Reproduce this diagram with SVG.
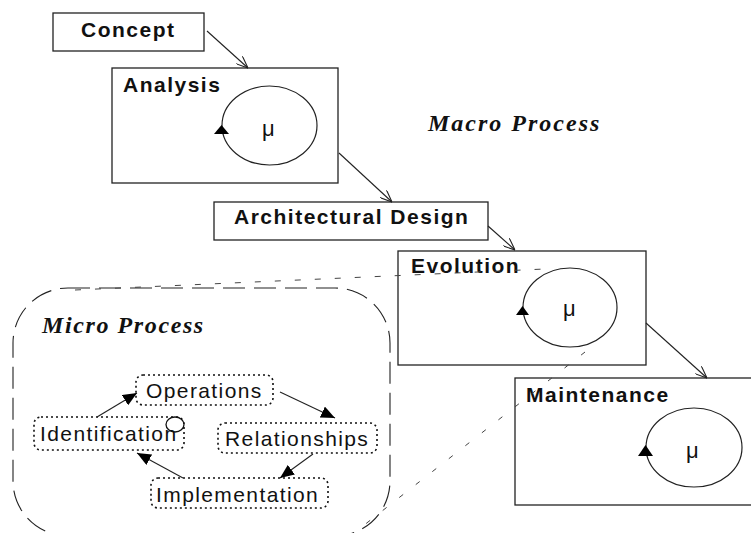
<svg xmlns="http://www.w3.org/2000/svg" width="751" height="533" viewBox="0 0 751 533">
  <defs>
    <style>
      .box { fill: #fff; stroke: #222; stroke-width: 1.3; }
      .phase { font-family: "Liberation Sans", Arial, sans-serif; font-weight: bold; font-size: 21px; letter-spacing: 1.5px; fill: #111; }
      .mu { font-family: "Liberation Sans", Arial, sans-serif; font-size: 22px; fill: #111; }
      .loop { fill: none; stroke: #222; stroke-width: 1.2; }
      .title { font-family: "Liberation Serif", "Times New Roman", serif; font-weight: bold; font-style: italic; font-size: 24px; fill: #111; }
      .step { fill: #fff; stroke: #111; stroke-width: 1.6; stroke-dasharray: 2 3; }
      .steptext { font-family: "Liberation Sans", Arial, sans-serif; font-size: 21px; letter-spacing: 1.4px; fill: #111; }
      .link { fill: none; stroke: #222; stroke-width: 1.1; }
      .flow { fill: none; stroke: #222; stroke-width: 1.1; }
      .zoom { fill: none; stroke: #444; stroke-width: 1; }
    </style>
    <marker id="open" viewBox="0 0 12 10" refX="12" refY="5" markerWidth="12" markerHeight="10" markerUnits="userSpaceOnUse" orient="auto">
      <path d="M0,0 L12,5 L0,10" fill="none" stroke="#222" stroke-width="1.1"/>
    </marker>
    <marker id="solid" viewBox="0 0 14 12" refX="14" refY="6" markerWidth="14" markerHeight="12" markerUnits="userSpaceOnUse" orient="auto">
      <path d="M0,0 L14,6 L0,12 Z" fill="#000"/>
    </marker>
  </defs>

  <rect width="751" height="533" fill="#fff"/>

  <!-- micro process bubble -->
  <g id="micro-process">
    <rect x="13" y="288" width="377" height="248" rx="55" ry="55" fill="none" stroke="#222" stroke-width="1.1" stroke-dasharray="22 9"/>
    <text class="title" x="42" y="333" letter-spacing="1.6">Micro Process</text>
  </g>

  <g id="macro-title">
    <text class="title" x="428" y="131" letter-spacing="2">Macro Process</text>
  </g>

  <!-- macro phases -->
  <g id="concept">
    <rect class="box" x="53" y="13" width="151" height="38"/>
    <text class="phase" x="81" y="37">Concept</text>
  </g>

  <g id="analysis">
    <rect class="box" x="112" y="68" width="226" height="115"/>
    <text class="phase" x="123" y="92">Analysis</text>
    <ellipse class="loop" cx="269.5" cy="125.5" rx="47.5" ry="39.5"/>
    <path d="M214,134 L229,134 L221.5,125 Z" fill="#000"/>
    <text class="mu" x="262" y="136">μ</text>
  </g>

  <g id="architectural-design">
    <rect class="box" x="214" y="202" width="274" height="38"/>
    <text class="phase" x="234" y="224">Architectural Design</text>
  </g>

  <g id="evolution">
    <rect class="box" x="398" y="251" width="248" height="114"/>
    <text class="phase" x="411" y="273">Evolution</text>
    <ellipse class="loop" cx="570" cy="307.5" rx="47" ry="39.5"/>
    <path d="M516,315 L529,315 L522.5,306 Z" fill="#000"/>
    <text class="mu" x="563" y="316">μ</text>
  </g>

  <g id="maintenance">
    <rect class="box" x="515" y="378" width="245" height="127"/>
    <text class="phase" x="526" y="402">Maintenance</text>
    <ellipse class="loop" cx="694" cy="447.5" rx="48" ry="39.5"/>
    <path d="M638,456 L653,456 L645.5,445 Z" fill="#000"/>
    <text class="mu" x="686" y="458">μ</text>
  </g>

  <!-- micro steps -->
  <g id="operations">
    <rect class="step" x="136" y="375" width="137" height="30" rx="7"/>
    <text class="steptext" x="146" y="398">Operations</text>
  </g>
  <g id="identification">
    <rect class="step" x="34" y="417" width="150" height="33" rx="7"/>
    <text class="steptext" x="40" y="441">Identification</text>
    <ellipse cx="175" cy="424.5" rx="9" ry="7.5" fill="none" stroke="#111" stroke-width="1.3"/>
  </g>
  <g id="relationships">
    <rect class="step" x="218" y="423" width="159" height="30" rx="7"/>
    <text class="steptext" x="225" y="446">Relationships</text>
  </g>
  <g id="implementation">
    <rect class="step" x="151" y="478" width="177" height="30" rx="7"/>
    <text class="steptext" x="156" y="502">Implementation</text>
  </g>

  <g id="connectors">
    <!-- macro sequence -->
    <line class="link" x1="207" y1="31" x2="248" y2="68" marker-end="url(#open)"/>
    <line class="link" x1="339" y1="153" x2="392" y2="202" marker-end="url(#open)"/>
    <line class="link" x1="488" y1="226" x2="515" y2="250" marker-end="url(#open)"/>
    <line class="link" x1="646" y1="323" x2="707" y2="378" marker-end="url(#open)"/>
    <!-- micro cycle -->
    <line class="flow" x1="97" y1="417" x2="137" y2="393" marker-end="url(#solid)"/>
    <line class="flow" x1="280" y1="392" x2="335" y2="418" marker-end="url(#solid)"/>
    <line class="flow" x1="313" y1="454" x2="280" y2="478" marker-end="url(#solid)"/>
    <line class="flow" x1="183" y1="478" x2="137" y2="453" marker-end="url(#solid)"/>
    <!-- expansion lines from the Evolution loop -->
    <line class="zoom" x1="75" y1="290" x2="545" y2="269" stroke-dasharray="6 14"/>
    <line class="zoom" x1="585" y1="352" x2="354" y2="533" stroke-dasharray="5 16"/>
  </g>
</svg>
